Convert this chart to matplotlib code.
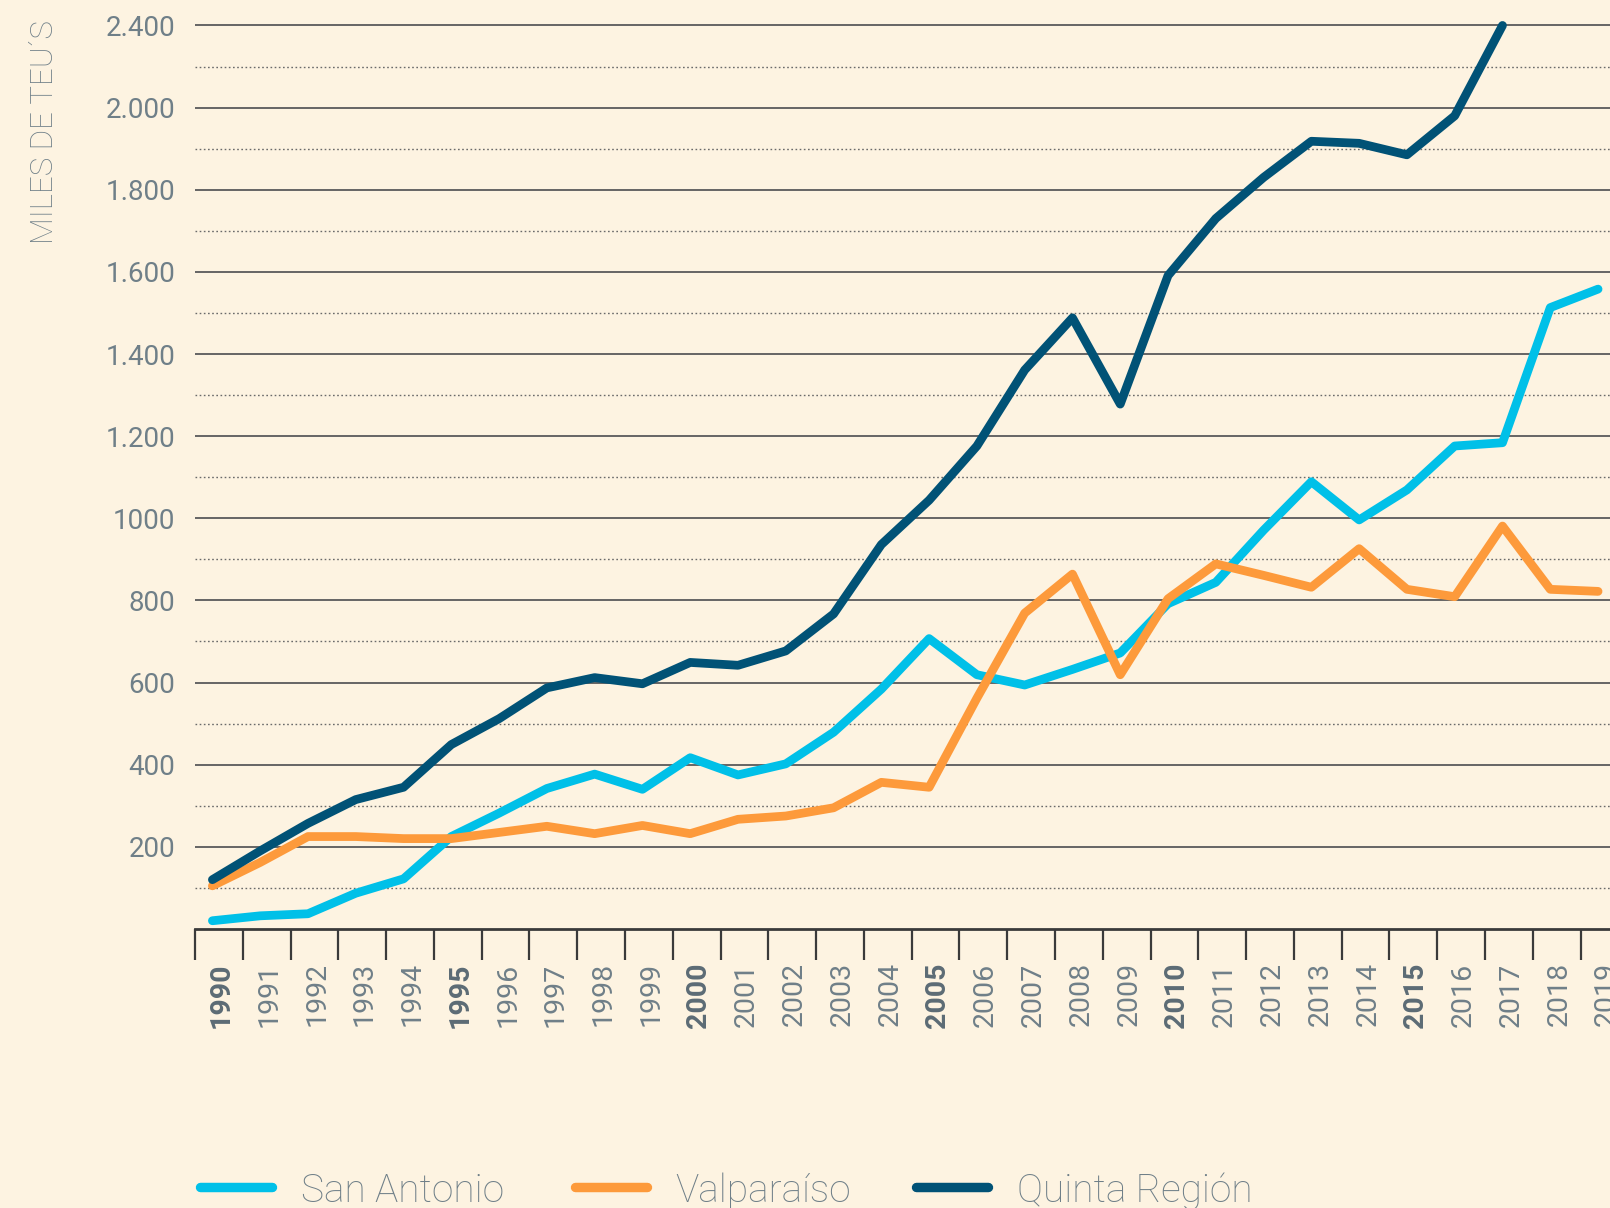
import numpy as np
import matplotlib
matplotlib.use("Agg")
import matplotlib.pyplot as plt
from matplotlib.lines import Line2D

# data (miles de TEU's)
years = list(range(1990, 2020))
san_antonio = [20, 32, 37, 87, 122, 225, 282, 342, 377, 340,
               417, 375, 402, 479, 584, 707, 619, 594, 632, 672,
               792, 844, 971, 1089, 996, 1069, 1176, 1184, 1513, 1558]
valparaiso = [105, 162, 225, 225, 220, 220, 235, 250, 232, 252,
              232, 267, 275, 295, 357, 345, 562, 769, 864, 619,
              804, 889, 861, 832, 926, 827, 809, 981, 827, 822]
quinta_years = list(range(1990, 2018))
quinta_region = [120, 190, 257, 315, 345, 449, 512, 587, 612, 597,
                 649, 642, 677, 767, 936, 1044, 1176, 1361, 1488, 1278,
                 1591, 1730, 1830, 1918, 1913, 1885, 1980, 2200]

ytick_vals = [200, 400, 600, 800, 1000, 1200, 1400, 1600, 1800, 2000, 2200]
ytick_labels = ["200", "400", "600", "800", "1000", "1.200", "1.400",
                "1.600", "1.800", "2.000", "2.400"]
minor_grid = [100, 300, 500, 700, 900, 1100, 1300, 1500, 1700, 1900, 2100]
bold_years = [1990, 1995, 2000, 2005, 2010, 2015]

series_names = ["San Antonio", "Valparaíso", "Quinta Región"]

BG = "#fdf3e1"
C_SA = "#00c0e8"
C_VA = "#fd9a3b"
C_QR = "#015276"
GRAY = "#6f7f88"
DARKGRAY = "#5c6b75"

plt.rcParams['font.family'] = ['Roboto', 'DejaVu Sans']

W, H = 1610, 1208
fig = plt.figure(figsize=(W / 100, H / 100), dpi=100, facecolor=BG)
ax = fig.add_axes([0.1211, 0.2310, 0.8789, 0.7690])
ax.set_facecolor(BG)

ax.set_xlim(1989.635, 2019.25)
ax.set_ylim(0, 2262)

for v in ytick_vals:
    ax.axhline(v, color="#5a5a5a", lw=1.3, zorder=1)
for v in minor_grid:
    ax.axhline(v, color="#6a6a6a", lw=1.0, ls=(0, (1.2, 1.8)), zorder=1)

lkw = dict(lw=6.3, solid_capstyle="round", solid_joinstyle="round", zorder=3)
ax.plot(years, san_antonio, color=C_SA, **lkw)
ax.plot(years, valparaiso, color=C_VA, **lkw)
ax.plot(quinta_years, quinta_region, color=C_QR, **lkw)

for s in ["top", "right", "left"]:
    ax.spines[s].set_visible(False)
ax.spines["bottom"].set_color("#3a3a3a")
ax.spines["bottom"].set_linewidth(2.0)

ax.set_yticks(ytick_vals)
ax.set_yticklabels(ytick_labels)
ax.tick_params(axis="y", length=0, pad=14, labelsize=20, labelcolor=GRAY)

# year labels sit a bit right of the data points, ticks on the boundaries
ax.set_xticks([y + 0.18 for y in years])
ax.set_xticklabels([str(y) for y in years], rotation=90)
ax.tick_params(axis="x", which="major", length=0, pad=24, labelsize=20.5, labelcolor=GRAY)
ax.set_xticks([y - 0.365 for y in years], minor=True)
ax.tick_params(axis="x", which="minor", length=22, width=1.6, color="#3a3a3a")
for lab, y in zip(ax.get_xticklabels(), years):
    if y in bold_years:
        lab.set_fontweight("bold")
        lab.set_color(DARKGRAY)

fig.text(0.0275, 1 - 20 / H, "MILES DE TEU´S", rotation=90, va="top", ha="center",
         fontsize=22.5, color=GRAY, fontweight="light")

# legend along the bottom edge (pixel layout)
leg_colors = [C_SA, C_VA, C_QR]
leg_x = [(200, 272, 301), (575, 647, 675), (916, 988, 1017)]
for name, col, (x0, x1, xt) in zip(series_names, leg_colors, leg_x):
    fig.add_artist(Line2D([x0 / W, x1 / W], [1 - 1187 / H] * 2, color=col, lw=6.8,
                          solid_capstyle="round", transform=fig.transFigure))
    fig.text(xt / W, 1 - 1202 / H, name, va="baseline", ha="left",
             fontsize=28, color=GRAY, fontweight="light")

fig.savefig("out.png", dpi=100, facecolor=BG)
